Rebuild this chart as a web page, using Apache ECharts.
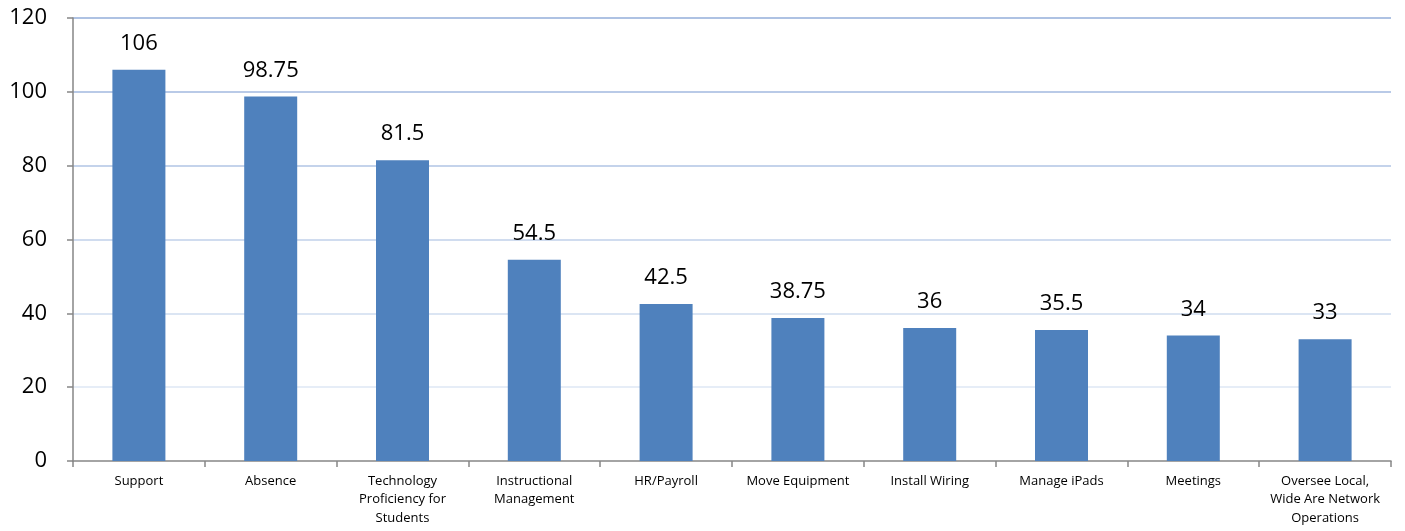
<!DOCTYPE html>
<html><head><meta charset="utf-8">
<script src="https://cdn.jsdelivr.net/npm/echarts@6/dist/echarts.min.js"></script>
<style>html,body{margin:0;padding:0;background:#fff}#c{width:1405px;height:531px}</style>
</head><body><div id="c"></div>
<script>
const categories = ['Support','Absence','Technology\nProficiency for\nStudents','Instructional\nManagement','HR/Payroll','Move Equipment','Install Wiring','Manage iPads','Meetings','Oversee Local,\nWide Are Network\nOperations'];
const values = [106, 98.75, 81.5, 54.5, 42.5, 38.75, 36, 35.5, 34, 33];
const yTicks = {min: 0, max: 120, interval: 20};
const font = '"Open Sans", "Liberation Sans", sans-serif';
const chart = echarts.init(document.getElementById('c'), null, {renderer: 'canvas'});
chart.setOption({
  animation: false,
  grid: {left: 73, right: 14, top: 18, bottom: 70, containLabel: false},
  xAxis: {
    type: 'category', data: categories,
    axisLine: {lineStyle: {color: '#868686', width: 1.5}},
    axisTick: {show: true, alignWithLabel: false, length: 6, lineStyle: {color: '#868686', width: 1.5}},
    axisLabel: {interval: 0, color: '#000', fontSize: 13, fontFamily: font, lineHeight: 18.5, margin: 11}
  },
  yAxis: {
    type: 'value', min: yTicks.min, max: yTicks.max, interval: yTicks.interval,
    axisLine: {show: true, lineStyle: {color: '#868686', width: 1.5}},
    axisTick: {show: true, length: 6, lineStyle: {color: '#868686', width: 1.5}},
    axisLabel: {color: '#000', fontSize: 22, fontFamily: font, margin: 26},
    splitLine: {show: true, lineStyle: {width: 1.5, color: ['#ffffff','#DEE7F4','#CFDCEF','#C0D0EA','#B1C5E5','#A2B9DF','#93AEDA']}}
  },
  series: [{
    type: 'bar', data: values, barWidth: 53,
    itemStyle: {color: '#4F81BD'},
    label: {show: true, position: 'top', distance: 15, color: '#000', fontSize: 22, fontFamily: font}
  }]
});
</script></body></html>
